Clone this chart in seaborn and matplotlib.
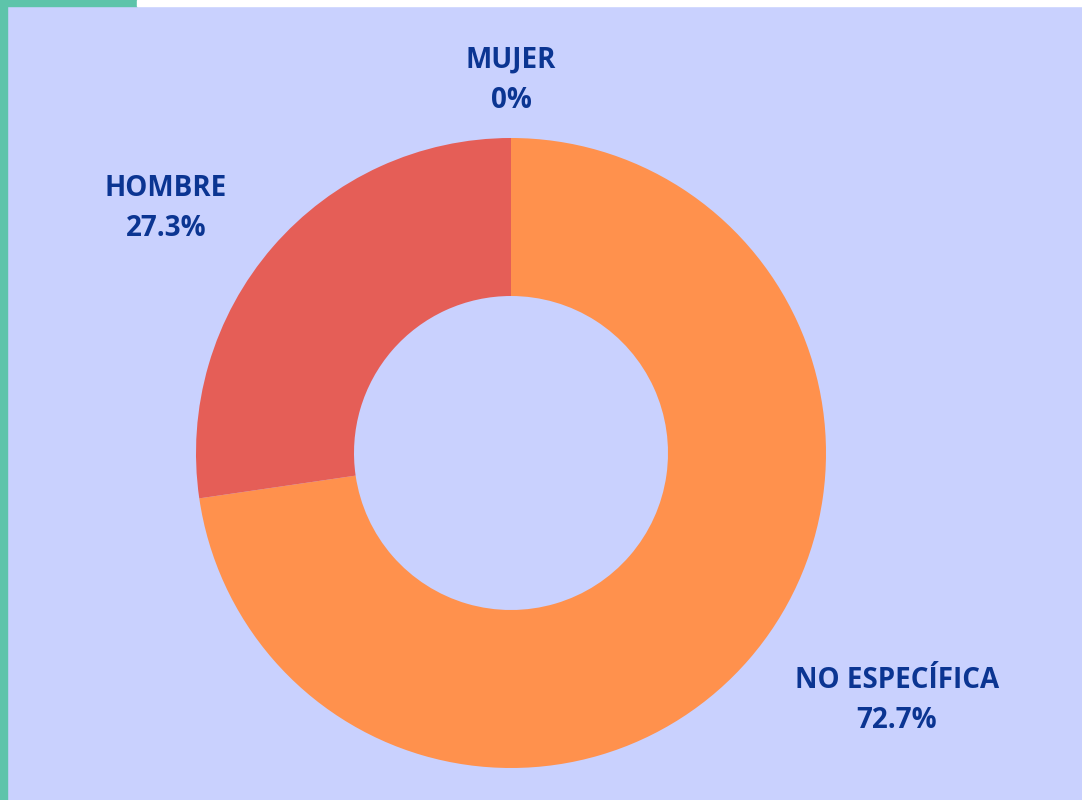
import matplotlib
matplotlib.use("Agg")
import matplotlib.pyplot as plt
import seaborn as sns
from matplotlib.patches import Rectangle

categories = ["NO ESPECÍFICA", "HOMBRE", "MUJER"]
values = [72.7, 27.3, 0.0]
pct_labels = ["72.7%", "27.3%", "0%"]
colors = ["#FF914D", "#E55E57", "#5E9CE5"]

sns.set_theme(style="white")
plt.rcParams['font.family'] = ['Open Sans', 'DejaVu Sans']

W, H = 1082, 800
fig = plt.figure(figsize=(W / 100, H / 100), dpi=100)
bg = "#C9D1FE"
fig.patch.set_facecolor(bg)
ax = fig.add_axes([0, 0, 1, 1])
ax.set_facecolor(bg)
ax.set_xlim(0, W)
ax.set_ylim(0, H)
ax.set_aspect("equal")
ax.axis("off")

R = 315
ax.pie(values, colors=colors, startangle=90, counterclock=False,
       radius=R, center=(511, H - 453),
       wedgeprops=dict(width=158, linewidth=0), frame=False)
ax.set_xlim(0, W)
ax.set_ylim(0, H)

# frame decorations
ax.add_patch(Rectangle((0, 0), 7, H, color="#5DC4AA", zorder=5, clip_on=False))
ax.add_patch(Rectangle((0, H - 6), 137, 6, color="#5DC4AA", zorder=5, clip_on=False))
ax.add_patch(Rectangle((137, H - 6), W - 137, 6, color="white", zorder=5, clip_on=False))

label_pos = {"NO ESPECÍFICA": (897, 700), "HOMBRE": (166, 208), "MUJER": (511, 80)}
txt_color = "#0B3592"
for cat, pct in zip(categories, pct_labels):
    x, y = label_pos[cat]
    ax.text(x, H - y, f"{cat}\n{pct}", ha="center", va="center",
            fontsize=20, fontweight="bold", color=txt_color,
            linespacing=1.5)

fig.savefig("out.png", dpi=100, facecolor=bg)
